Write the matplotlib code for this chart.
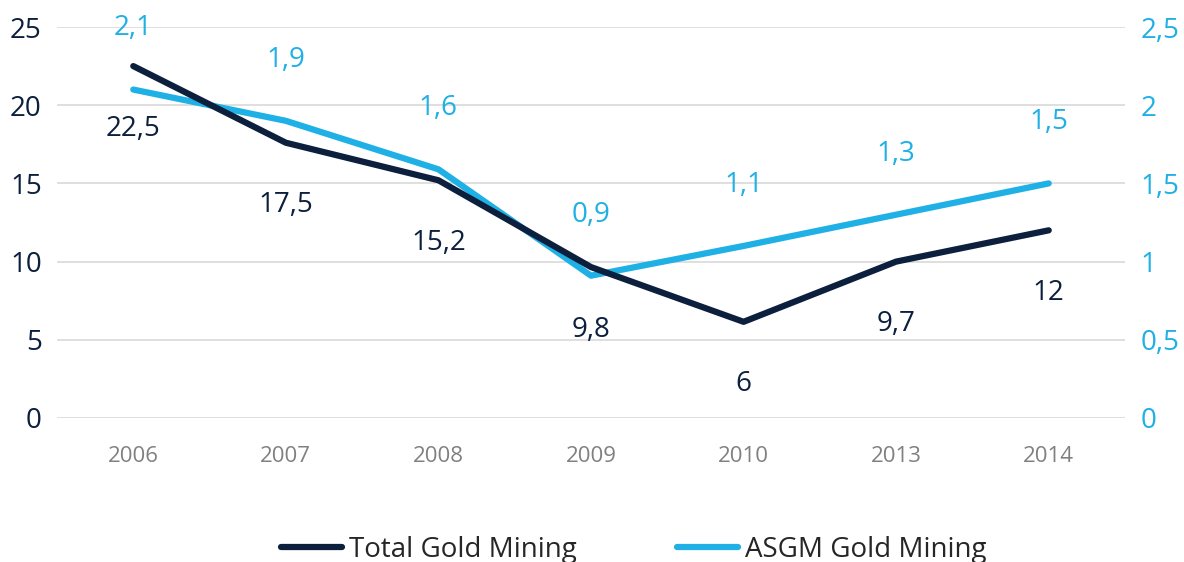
import matplotlib
matplotlib.use("Agg")
import matplotlib.pyplot as plt
import numpy as np

years = ["2006", "2007", "2008", "2009", "2010", "2013", "2014"]
total_gold = [22.5, 17.6, 15.2, 9.65, 6.15, 10.0, 12.0]
total_labels = ["22,5", "17,5", "15,2", "9,8", "6", "9,7", "12"]
asgm_gold = [2.1, 1.9, 1.59, 0.91, 1.1, 1.3, 1.5]
asgm_labels = ["2,1", "1,9", "1,6", "0,9", "1,1", "1,3", "1,5"]
left_ticks = [0, 5, 10, 15, 20, 25]
right_ticks = [0, 0.5, 1, 1.5, 2, 2.5]
right_tick_labels = ["0", "0,5", "1", "1,5", "2", "2,5"]

NAVY = "#0c1f3d"
BLUE = "#1fb0e5"
GREY = "#808080"

plt.rcParams["font.family"] = ["Open Sans", "DejaVu Sans"]

fig = plt.figure(figsize=(11.84, 5.62), dpi=100)
ax = fig.add_axes([57 / 1184, 1 - 418 / 562, (1125 - 57) / 1184, (418 - 27) / 562])
ax2 = ax.twinx()

x = np.arange(len(years))
ax.set_xlim(-0.5, len(years) - 0.5)
ax.set_ylim(0, 25)
ax2.set_ylim(0, 2.5)

for t in right_ticks:
    ax2.axhline(t, color="#d9d9d9", lw=1.2, zorder=0)

l1, = ax.plot(x, total_gold, color=NAVY, lw=4.5, solid_capstyle="round",
              solid_joinstyle="round", zorder=3, label="Total Gold Mining")
l2, = ax2.plot(x, asgm_gold, color=BLUE, lw=4.5, solid_capstyle="round",
               solid_joinstyle="round", zorder=3, label="ASGM Gold Mining")

for xi, v, lab in zip(x, total_gold, total_labels):
    ax.annotate(lab, (xi, v), xytext=(0, -45), textcoords="offset points",
                ha="center", va="center", fontsize=20, color=NAVY)
for xi, v, lab in zip(x, asgm_gold, asgm_labels):
    ax2.annotate(lab, (xi, v), xytext=(0, 44), textcoords="offset points",
                 ha="center", va="center", fontsize=20, color=BLUE)

ax.set_xticks(x)
ax.set_xticklabels(years, fontsize=16, color=GREY)
ax.set_yticks(left_ticks)
ax.set_yticklabels([str(t) for t in left_ticks], fontsize=20, color=NAVY)
ax2.set_yticks(right_ticks)
ax2.set_yticklabels(right_tick_labels, fontsize=20, color=BLUE)

ax.tick_params(axis="x", length=0, pad=20)
ax.tick_params(axis="y", length=0, pad=11)
ax2.tick_params(axis="y", length=0, pad=11)

for a in (ax, ax2):
    for s in a.spines.values():
        s.set_visible(False)
ax.set_zorder(ax2.get_zorder() + 1)
ax.patch.set_visible(False)

fig.legend(handles=[l1, l2], loc="center", bbox_to_anchor=(0.535, 0.022),
           ncol=2, frameon=False, fontsize=20, handlelength=2.2,
           handletextpad=0.25, columnspacing=3.6, labelcolor="#262626")

fig.savefig("out.png", dpi=100)
